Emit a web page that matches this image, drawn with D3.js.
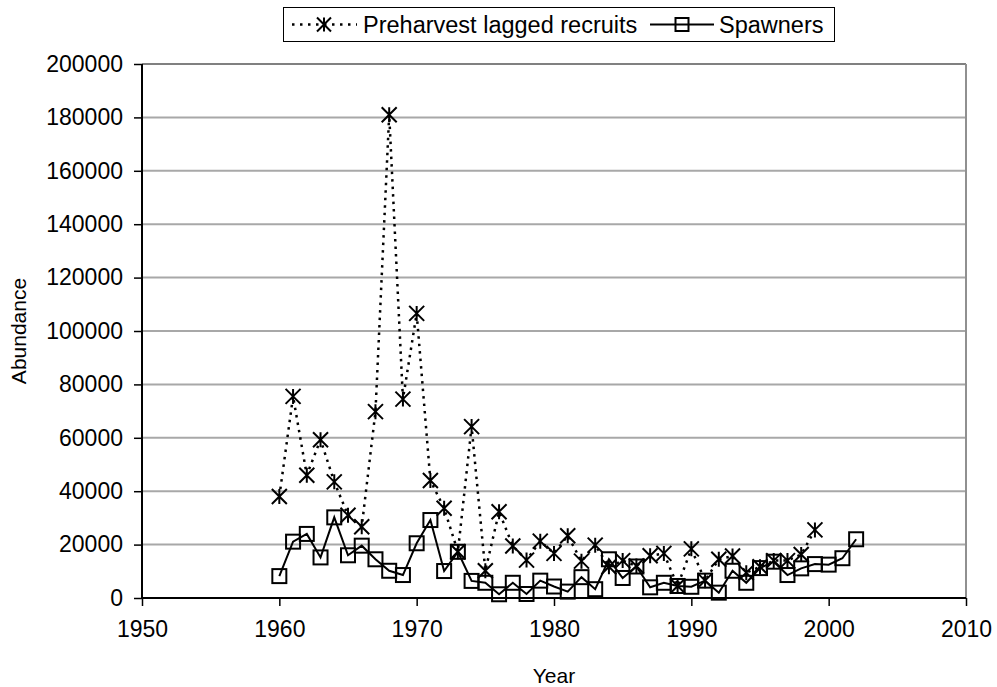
<!DOCTYPE html>
<html><head><meta charset="utf-8">
<script src="https://cdn.jsdelivr.net/npm/d3@7"></script>
<style>body{margin:0;background:#fff}svg{display:block}text{font-family:"Liberation Sans",Arial,sans-serif;fill:#000}</style>
</head><body><svg id="c" width="997" height="687"></svg>
<script>
const recruitYears = d3.range(1960, 2000);
const recruitValues = [38000,75500,46000,59300,43500,31000,26700,69800,181000,74500,
  106600,44000,33600,17300,64200,10200,32300,19500,14200,21300,
  16700,23300,13800,19800,11700,14000,12000,15800,16700,4500,
  18400,6500,14500,15700,9500,11700,14000,14000,16300,25500];
const spawnerYears = d3.range(1960, 2003);
const spawnerValues = [8200,21100,24000,15200,30200,16000,19600,14500,10200,8600,
  20500,29200,10100,17300,6400,5700,1400,5700,1500,6500,
  4300,2400,7800,3300,14500,7500,11800,4000,5700,4500,
  4200,6500,2000,10200,5700,11200,13600,8600,11100,12700,
  12500,14900,22000];
const xTicks = [1950,1960,1970,1980,1990,2000,2010];
const yTicks = d3.range(0, 200001, 20000);
const seriesNames = ["Preharvest lagged recruits","Spawners"];

const svg = d3.select("#c");
const L=142,R=966,T=64,B=598;
const x = d3.scaleLinear().domain([1950,2010]).range([L,R]);
const y = d3.scaleLinear().domain([0,200000]).range([B,T]);

svg.append("g").selectAll("line").data(yTicks.filter(v=>v>0)).join("line")
  .attr("x1",L).attr("x2",R).attr("y1",d=>y(d)).attr("y2",d=>y(d))
  .attr("stroke",d=>d===200000?"#808080":"#a8a8a8").attr("stroke-width",2);
svg.append("line").attr("x1",R).attr("x2",R).attr("y1",T).attr("y2",B).attr("stroke","#909090").attr("stroke-width",2);

const fs = 23;
const gx = svg.append("g").attr("transform",`translate(0,${B})`)
  .call(d3.axisBottom(x).tickValues(xTicks).tickFormat(d3.format("d")).tickSize(8).tickPadding(15));
const gy = svg.append("g").attr("transform",`translate(${L},0)`)
  .call(d3.axisLeft(y).tickValues(yTicks).tickFormat(d3.format("d")).tickSize(8).tickPadding(11));
[gx,gy].forEach(g=>{
  g.select(".domain").attr("stroke","#000").attr("stroke-width",2);
  g.selectAll(".tick line").attr("stroke","#000").attr("stroke-width",1.5);
  g.selectAll(".tick text").attr("font-size",fs).attr("font-family","Liberation Sans, Arial, sans-serif").attr("fill","#000");
});
gx.select(".domain").attr("d",`M${L},0H${R}`);
gy.select(".domain").attr("d",`M0,${B}V${T}`);

svg.append("text").attr("x",(L+R)/2).attr("y",683).attr("text-anchor","middle").attr("font-size",21).text("Year");
svg.append("text").attr("transform",`translate(26,${(T+B)/2}) rotate(-90)`).attr("text-anchor","middle").attr("font-size",21).text("Abundance");

const rec = recruitYears.map((yr,i)=>[yr,recruitValues[i]]);
const spa = spawnerYears.map((yr,i)=>[yr,spawnerValues[i]]);
const line = d3.line().x(d=>x(d[0])).y(d=>y(d[1]));

svg.append("path").datum(rec).attr("d",line).attr("fill","none").attr("stroke","#000")
  .attr("stroke-width",2.5).attr("stroke-dasharray","2.5,5");
svg.append("path").datum(spa).attr("d",line).attr("fill","none").attr("stroke","#000").attr("stroke-width",2);

function star(g,cx,cy,s){
  const h=s/2;
  g.append("path").attr("d",`M${cx-h},${cy-h}L${cx+h},${cy+h}M${cx-h},${cy+h}L${cx+h},${cy-h}M${cx},${cy-h}V${cy+h}`)
   .attr("stroke","#000").attr("stroke-width",2).attr("fill","none");
}
function square(g,cx,cy,s){
  g.append("rect").attr("x",cx-s/2).attr("y",cy-s/2).attr("width",s).attr("height",s)
   .attr("fill","none").attr("stroke","#000").attr("stroke-width",2);
}
const gs = svg.append("g");
spa.forEach(d=>square(gs,x(d[0]),y(d[1]),14));
const gr = svg.append("g");
rec.forEach(d=>star(gr,x(d[0]),y(d[1]),15));

const lg = svg.append("g");
lg.append("rect").attr("x",283.5).attr("y",7.5).attr("width",551).attr("height",34).attr("fill","#fff").attr("stroke","#000").attr("stroke-width",1);
const ly=24.5;
lg.append("line").attr("x1",292).attr("x2",357).attr("y1",ly).attr("y2",ly).attr("stroke","#000").attr("stroke-width",2.5).attr("stroke-dasharray","2.5,5.5");
star(lg,324,ly,14);
lg.append("text").attr("x",363).attr("y",ly+8).attr("font-size",23.5).text(seriesNames[0]);
lg.append("line").attr("x1",650).attr("x2",714).attr("y1",ly).attr("y2",ly).attr("stroke","#000").attr("stroke-width",2);
square(lg,682,ly,13);
lg.append("text").attr("x",719).attr("y",ly+8).attr("font-size",23.5).text(seriesNames[1]);
</script></body></html>
